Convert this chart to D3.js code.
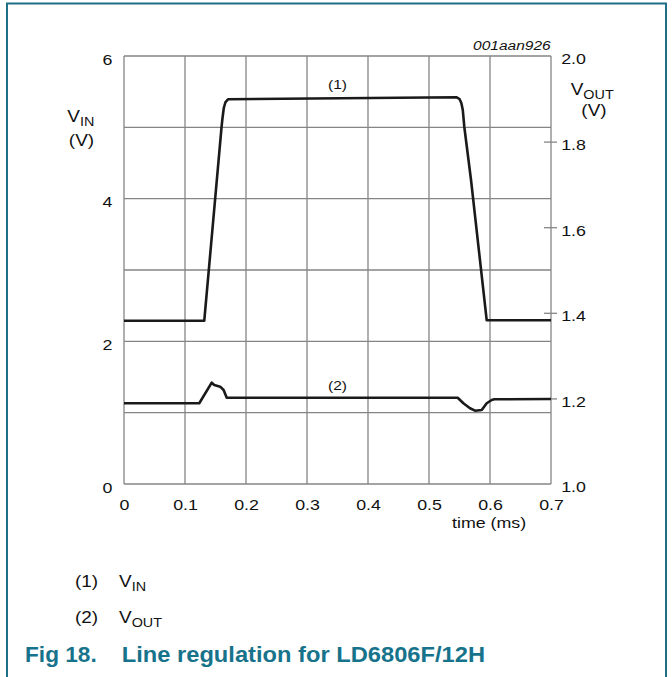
<!DOCTYPE html>
<html><head><meta charset="utf-8">
<script src="https://cdn.jsdelivr.net/npm/d3@7"></script>
<style>html,body{margin:0;padding:0;background:#fff;}svg{display:block;}
svg text{font-family:'Liberation Sans', Arial, sans-serif;}</style>
</head><body>
<script>
// ---- data ----
const xTicks = [0, 0.1, 0.2, 0.3, 0.4, 0.5, 0.6, 0.7];
const xTickLabels = ["0", "0.1", "0.2", "0.3", "0.4", "0.5", "0.6", "0.7"];
const yLeftTicks = [0, 2, 4, 6];
const yLeftGrid = [1, 2, 3, 4, 5];
const yRightTicks = [1.0, 1.2, 1.4, 1.6, 1.8, 2.0];
const yRightTickLabels = ["1.0", "1.2", "1.4", "1.6", "1.8", "2.0"];

// (1) V_IN (left axis, V) vs time (ms)
const vinTime = [0, 0.1316, 0.1598, 0.1615, 0.1636, 0.1664, 0.1705, 0.5454, 0.5500, 0.5530, 0.5554, 0.5579, 0.5689, 0.5946, 0.7];
const vinVolt = [2.289, 2.289, 4.991, 5.131, 5.271, 5.355, 5.393, 5.421, 5.397, 5.341, 5.243, 5.005, 4.262, 2.295, 2.295];

// (2) V_OUT (right axis, V) vs time (ms)
const voutTime = [0, 0.1234, 0.1438, 0.1480, 0.1577, 0.1633, 0.1684, 0.5470, 0.5564, 0.5672, 0.5754, 0.5864, 0.5946, 0.6028, 0.6070, 0.7];
const voutVolt = [1.1886, 1.1886, 1.2367, 1.2313, 1.2274, 1.2196, 1.2016, 1.2016, 1.1886, 1.1769, 1.1713, 1.1729, 1.1886, 1.1963, 1.1979, 1.1986];

const SX = 1.15;
const FONT = "'Liberation Sans', Arial, sans-serif";
const W = 672, H = 677;
const svg = d3.select("body").append("svg").attr("width", W).attr("height", H)
  .style("font-family", FONT);
svg.append("rect").attr("width", W).attr("height", H).attr("fill", "#fff");

const x = d3.scaleLinear().domain([0, 0.7]).range([124, 551]);
const yL = d3.scaleLinear().domain([0, 6]).range([484, 56]);
const yR = d3.scaleLinear().domain([1, 2]).range([484, 56]);

const GRID = "#858585";
// border
svg.append("path").attr("d", "M7,677 L7,3.5 L666,3.5 L666,677")
  .attr("fill", "none").attr("stroke", "#1f6f86").attr("stroke-width", 2);

// gridlines
const g = svg.append("g");
g.selectAll("line.v").data(xTicks).join("line")
  .attr("x1", d => x(d)).attr("x2", d => x(d)).attr("y1", yL(0)).attr("y2", yL(6))
  .attr("stroke", GRID).attr("stroke-width", 1.3);
g.selectAll("line.h").data([0, ...yLeftGrid, 6]).join("line")
  .attr("x1", x(0)).attr("x2", x(0.7)).attr("y1", d => yL(d)).attr("y2", d => yL(d))
  .attr("stroke", GRID).attr("stroke-width", 1.3);

function styleAxis(sel, yOff) {
  sel.attr("font-family", null).attr("font-size", null);
  sel.select(".domain").remove();
  sel.selectAll(".tick text").each(function () {
    const t = d3.select(this);
    const xx = +t.attr("x") || 0;
    t.attr("dy", null).attr("y", yOff).attr("x", xx / SX)
      .attr("transform", `scale(${SX},1)`)
      .attr("fill", "#111")
      .style("font-family", FONT).style("font-size", "15.5px");
  });
}

// left axis
const axL = d3.axisLeft(yL).tickValues(yLeftTicks).tickSize(0).tickPadding(11.7).tickFormat(d3.format("d"));
const gL = svg.append("g").attr("transform", `translate(${x(0)},0)`).call(axL);
styleAxis(gL, 8);

// right axis
const axR = d3.axisRight(yR).tickValues(yRightTicks).tickSize(0).tickPadding(10.2)
  .tickFormat((d, i) => yRightTickLabels[i]);
const gR = svg.append("g").attr("transform", `translate(${x(0.7)},0)`).call(axR);
styleAxis(gR, 7.8);
gR.selectAll(".tick").filter(d => d > 1.05 && d < 1.95).append("line")
  .attr("x1", -7).attr("x2", 6).attr("stroke", GRID).attr("stroke-width", 1.3);

// bottom axis
const axB = d3.axisBottom(x).tickValues(xTicks).tickSize(0).tickPadding(0)
  .tickFormat((d, i) => xTickLabels[i]);
const gB = svg.append("g").attr("transform", `translate(0,${yL(0)})`).call(axB);
styleAxis(gB, 26);

// text helper
function txt(xp, yp, parts, opts = {}) {
  const t = svg.append("text")
    .attr("transform", `translate(${xp},${yp}) scale(${opts.sx || SX},1)`)
    .attr("text-anchor", opts.anchor || "start")
    .attr("fill", opts.fill || "#111")
    .style("font-family", FONT)
    .style("font-size", (opts.size || 16) + "px")
    .style("font-weight", opts.weight || "normal")
    .style("font-style", opts.style || "normal");
  parts.forEach(p => {
    const s = t.append("tspan").text(p.t);
    if (p.sub) s.attr("dy", p.dy || 4).style("font-size", p.size + "px");
  });
  return t;
}

// axis titles
txt(67.3, 122.3, [{t: "V"}, {t: "IN", sub: true, size: 12.5, dy: 4}], {size: 16.5});
txt(81.5, 146, [{t: "(V)"}], {size: 16.5, anchor: "middle"});
txt(570.7, 95, [{t: "V"}, {t: "OUT", sub: true, size: 12.5, dy: 4}], {size: 16.5});
txt(594, 116, [{t: "(V)"}], {size: 16.5, anchor: "middle"});
txt(452, 528, [{t: "time (ms)"}], {size: 15.5});
txt(550.7, 50, [{t: "001aan926"}], {size: 13.5, anchor: "end", style: "italic"});

// curve labels
txt(337.5, 88.5, [{t: "(1)"}], {size: 13.5, anchor: "middle"});
txt(337.5, 389.5, [{t: "(2)"}], {size: 13.5, anchor: "middle"});

// curves
const lineL = d3.line().x(d => x(d[0])).y(d => yL(d[1]));
const lineR = d3.line().x(d => x(d[0])).y(d => yR(d[1]));
svg.append("path").attr("d", lineL(vinTime.map((t, i) => [t, vinVolt[i]])))
  .attr("fill", "none").attr("stroke", "#1a1a1a").attr("stroke-width", 2.6).attr("stroke-linejoin", "round");
svg.append("path").attr("d", lineR(voutTime.map((t, i) => [t, voutVolt[i]])))
  .attr("fill", "none").attr("stroke", "#1a1a1a").attr("stroke-width", 2.6).attr("stroke-linejoin", "round");

// legend
txt(75, 587, [{t: "(1)"}], {size: 16.5});
txt(119, 587, [{t: "V"}, {t: "IN", sub: true, size: 12.5, dy: 4}], {size: 16.5});
txt(75, 623.3, [{t: "(2)"}], {size: 16.5});
txt(119, 623.3, [{t: "V"}, {t: "OUT", sub: true, size: 12.5, dy: 4}], {size: 16.5});

// caption
txt(25, 662.3, [{t: "Fig 18."}], {size: 22, weight: "bold", fill: "#17738b", sx: 1.03});
txt(121.7, 662.3, [{t: "Line regulation for LD6806F/12H"}], {size: 22, weight: "bold", fill: "#17738b", sx: 1.077});
</script>
</body></html>
